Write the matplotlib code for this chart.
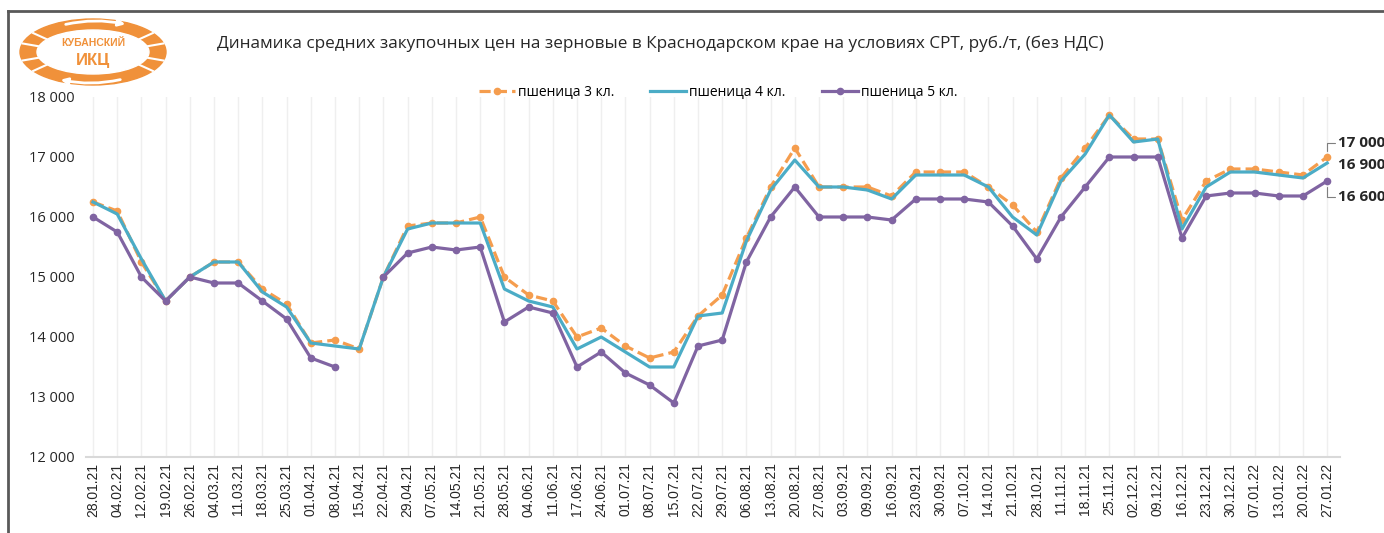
import numpy as np
import matplotlib
matplotlib.use("Agg")
import matplotlib.pyplot as plt
from matplotlib.patches import Ellipse, FancyArrowPatch
from matplotlib.lines import Line2D

plt.rcParams['font.family'] = ['Open Sans', 'DejaVu Sans']

dates = ['28.01.21', '04.02.21', '12.02.21', '19.02.21', '26.02.21', '04.03.21',
         '11.03.21', '18.03.21', '25.03.21', '01.04.21', '08.04.21', '15.04.21',
         '22.04.21', '29.04.21', '07.05.21', '14.05.21', '21.05.21', '28.05.21',
         '04.06.21', '11.06.21', '17.06.21', '24.06.21', '01.07.21', '08.07.21',
         '15.07.21', '22.07.21', '29.07.21', '06.08.21', '13.08.21', '20.08.21',
         '27.08.21', '03.09.21', '09.09.21', '16.09.21', '23.09.21', '30.09.21',
         '07.10.21', '14.10.21', '21.10.21', '28.10.21', '11.11.21', '18.11.21',
         '25.11.21', '02.12.21', '09.12.21', '16.12.21', '23.12.21', '30.12.21',
         '07.01.22', '13.01.22', '20.01.22', '27.01.22']

wheat3 = [16250, 16100, 15250, 14600, 15000, 15250, 15250, 14800, 14550, 13900,
          13950, 13800, 15000, 15850, 15900, 15900, 16000, 15000, 14700, 14600,
          14000, 14150, 13850, 13650, 13750, 14350, 14700, 15650, 16500, 17150,
          16500, 16500, 16500, 16350, 16750, 16750, 16750, 16500, 16200, 15750,
          16650, 17150, 17700, 17300, 17300, 15950, 16600, 16800, 16800, 16750,
          16700, 17000]

wheat4 = [16250, 16050, 15300, 14600, 15000, 15250, 15250, 14750, 14500, 13900,
          13850, 13800, 15000, 15800, 15900, 15900, 15900, 14800, 14600, 14500,
          13800, 14000, 13750, 13500, 13500, 14350, 14400, 15600, 16450, 16950,
          16500, 16500, 16450, 16300, 16700, 16700, 16700, 16500, 16000, 15700,
          16600, 17050, 17700, 17250, 17300, 15800, 16500, 16750, 16750, 16700,
          16650, 16900]

wheat5 = [16000, 15750, 15000, 14600, 15000, 14900, 14900, 14600, 14300, 13650,
          13500, np.nan, 15000, 15400, 15500, 15450, 15500, 14250, 14500, 14400,
          13500, 13750, 13400, 13200, 12900, 13850, 13950, 15250, 16000, 16500,
          16000, 16000, 16000, 15950, 16300, 16300, 16300, 16250, 15850, 15300,
          16000, 16500, 17000, 17000, 17000, 15650, 16350, 16400, 16400, 16350,
          16350, 16600]

series_names = ['пшеница 3 кл.', 'пшеница 4 кл.', 'пшеница 5 кл.']
yticks = [12000, 13000, 14000, 15000, 16000, 17000, 18000]

c_orange = '#F59D4E'
c_teal = '#4BACC6'
c_purple = '#8064A2'
c_logo = '#F0913A'

W, H = 1384, 533
fig = plt.figure(figsize=(W / 100, H / 100), dpi=100)
ax = fig.add_axes([86 / W, (H - 457) / H, (1340 - 86) / W, (457 - 97) / H])

x = np.arange(len(dates))
ax.plot(x, wheat3, color=c_orange, lw=2.3, ls=(0, (3.5, 1.6)), marker='o', ms=4.5,
        label=series_names[0], zorder=3)
ax.plot(x, wheat4, color=c_teal, lw=2.3, label=series_names[1], zorder=4)
ax.plot(x, wheat5, color=c_purple, lw=2.3, marker='o', ms=4.5,
        label=series_names[2], zorder=5)

ax.set_ylim(12000, 18000)
ax.set_xlim(-0.29, len(dates) - 0.47)
ax.set_yticks(yticks)
ax.set_yticklabels([f'{v:,}'.replace(',', ' ') for v in yticks], fontsize=10.5,
                   color='#262626')
ax.set_xticks(x)
ax.set_xticklabels(dates, rotation=90, fontsize=10, color='#262626',
                   family='Liberation Sans')
ax.tick_params(length=0, axis='both')
ax.tick_params(axis='y', pad=8)
ax.tick_params(axis='x', pad=4)
for s in ['top', 'left', 'right']:
    ax.spines[s].set_visible(False)
ax.spines['bottom'].set_color('#D9D9D9')
ax.spines['bottom'].set_linewidth(1.5)
ax.grid(axis='x', color='#EFEFEF', lw=1)
ax.set_axisbelow(True)

# end labels
last = len(dates) - 1
lbl = dict(textcoords='figure pixels', fontsize=11, fontweight='bold',
           color='#262626', va='center', ha='left')
leader = dict(arrowstyle='-', color='#7F7F7F', lw=0.8,
              connectionstyle='angle,angleA=0,angleB=90,rad=0', shrinkA=0, shrinkB=4)
ax.annotate('17 000', xy=(last, wheat3[-1]), xytext=(1338, H - 143),
            arrowprops=leader, **lbl)
ax.annotate('16 900', xy=(last, wheat4[-1]), xytext=(1338, H - 165), **lbl)
ax.annotate('16 600', xy=(last, wheat5[-1]), xytext=(1338, H - 197),
            arrowprops=leader, **lbl)

ax.legend(loc='center', bbox_to_anchor=(718 / W, (H - 92) / H),
          bbox_transform=fig.transFigure, ncol=3, frameon=False,
          fontsize=10, handlelength=2.6, handletextpad=0.2, columnspacing=2.6)

fig.text(660 / W, (H - 44) / H,
         'Динамика средних закупочных цен на зерновые в Краснодарском крае на условиях СРТ, руб./т, (без НДС)',
         ha='center', va='center', fontsize=12.3, color='#262626')

# frame lines
fig.add_artist(Line2D([8 / W, 1], [(H - 11) / H] * 2, color='#595959', lw=2,
                      transform=fig.transFigure))
fig.add_artist(Line2D([8 / W] * 2, [0, (H - 11) / H], color='#595959', lw=2,
                      transform=fig.transFigure))

# logo
lax = fig.add_axes([18 / W, (H - 88) / H, 150 / W, 72 / H])
lax.set_xlim(0, 150)
lax.set_ylim(0, 72)
lax.axis('off')
lax.add_patch(Ellipse((75, 36), 146, 66, color=c_logo))
lax.add_patch(Ellipse((75, 36), 112, 44, color='white'))
for ang in [15, 35, 145, 165, 195, 215, 325, 345]:
    t = np.deg2rad(ang)
    lax.plot([75 + 56 * np.cos(t), 75 + 73 * np.cos(t)],
             [36 + 22 * np.sin(t), 36 + 33 * np.sin(t)], color='white', lw=1.5)
lax.add_patch(FancyArrowPatch((45, 63), (110, 63), connectionstyle='arc3,rad=-0.12',
                              arrowstyle='-|>', mutation_scale=10, color='white', lw=2))
lax.add_patch(FancyArrowPatch((105, 9), (40, 9), connectionstyle='arc3,rad=-0.12',
                              arrowstyle='-|>', mutation_scale=10, color='white', lw=2))
lax.text(75, 45, 'КУБАНСКИЙ', ha='center', va='center', fontsize=7.5,
         fontweight='bold', color=c_logo, family='Liberation Sans')
lax.text(75, 28, 'ИКЦ', ha='center', va='center', fontsize=12,
         fontweight='bold', color=c_logo, family='Liberation Sans')

fig.savefig('out.png', dpi=100, facecolor='white')
